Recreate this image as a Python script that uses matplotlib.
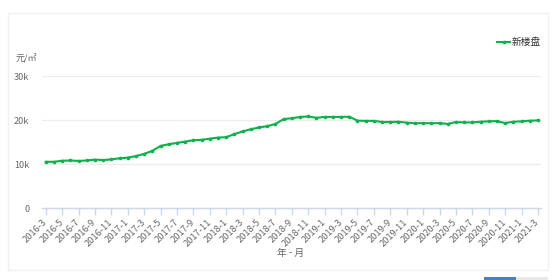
import matplotlib
matplotlib.use("Agg")
import matplotlib.pyplot as plt
from matplotlib.patches import Rectangle
from matplotlib.lines import Line2D

plt.rcParams['font.family'] = ['Noto Sans CJK SC', 'DejaVu Sans']

# ---- data ----
months = [f"{y}-{m}" for y in range(2016, 2022) for m in range(1, 13)]
months = months[months.index("2016-3"):months.index("2021-3") + 1]
prices = [10500, 10500, 10750, 10800, 10700, 10800, 11000, 10900, 11050, 11300,
          11450, 11800, 12300, 13000, 14100, 14500, 14800, 15100, 15400, 15500,
          15750, 16000, 16100, 16800, 17400, 17900, 18300, 18600, 19100, 20200,
          20400, 20700, 20800, 20500, 20700, 20700, 20700, 20750, 19850, 19800,
          19800, 19550, 19550, 19600, 19400, 19250, 19300, 19250, 19300, 19100,
          19550, 19450, 19450, 19600, 19700, 19750, 19300, 19600, 19700, 19850,
          19900]
series_name = "新楼盘"
y_ticks = [0, 10000, 20000, 30000]
y_tick_labels = ["0", "10k", "20k", "30k"]
y_unit = "元/㎡"
x_title = "年 - 月"

W, H = 558, 280
fig = plt.figure(figsize=(W / 100, H / 100), dpi=100)

def px(x0, y0, x1, y1):
    return [x0 / W, 1 - y1 / H, (x1 - x0) / W, (y1 - y0) / H]

# outer panel border
fig.patches.append(Rectangle((8 / W, 1 - 270 / H), 540 / W, 257 / H,
                             transform=fig.transFigure, fill=False,
                             edgecolor="#f0f0f0", linewidth=1.0))
# bottom tab bar
fig.patches.append(Rectangle((484 / W, 0), 32 / W, 3 / H, transform=fig.transFigure,
                             facecolor="#4a7fc4", edgecolor="none"))
fig.patches.append(Rectangle((516 / W, 0), 32 / W, 3 / H, transform=fig.transFigure,
                             facecolor="#e8e8e8", edgecolor="none"))

ax = fig.add_axes(px(41.7, 76, 541, 208))
x = list(range(len(months)))
color = "#0cb14b"
ax.plot(x, prices, color=color, linewidth=1.5, marker="o", markersize=2.6,
        markeredgewidth=0, zorder=3)

ax.set_ylim(0, 30000)
ax.set_xlim(-0.49, len(months) - 1 + 0.37)
ax.set_yticks(y_ticks)
ax.set_yticklabels(y_tick_labels)
ax.grid(axis="y", color="#ececec", linewidth=0.9)
ax.set_axisbelow(True)

tick_pos = x[::2]
ax.set_xticks(tick_pos)
ax.set_xticklabels([months[i] for i in tick_pos], rotation=45, ha="right",
                   va="center", rotation_mode="anchor")

for s in ["top", "right", "left"]:
    ax.spines[s].set_visible(False)
ax.spines["bottom"].set_color("#ccd6eb")
ax.spines["bottom"].set_linewidth(1.0)
ax.tick_params(axis="x", length=5, width=1, color="#ccd6eb", labelsize=6.7,
               labelcolor="#666666", pad=4)
ax.tick_params(axis="y", length=0, labelsize=6.5, labelcolor="#666666", pad=9)

fig.text(16 / W, 1 - 59 / H, y_unit, fontsize=6.5, color="#666666",
         ha="left", va="center")
fig.text(291 / W, 1 - 253 / H, x_title, fontsize=7, color="#666666",
         ha="center", va="center")

# legend
fig.lines.append(Line2D([497 / W, 510 / W], [1 - 42 / H, 1 - 42 / H],
                        transform=fig.transFigure, color=color, linewidth=1.5))
fig.lines.append(Line2D([503.5 / W], [1 - 42 / H], transform=fig.transFigure,
                        color=color, marker="o", markersize=2.6, markeredgewidth=0))
fig.text(512 / W, 1 - 42 / H, series_name, fontsize=7, color="#333333",
         ha="left", va="center")

fig.savefig("out.png", dpi=100)
